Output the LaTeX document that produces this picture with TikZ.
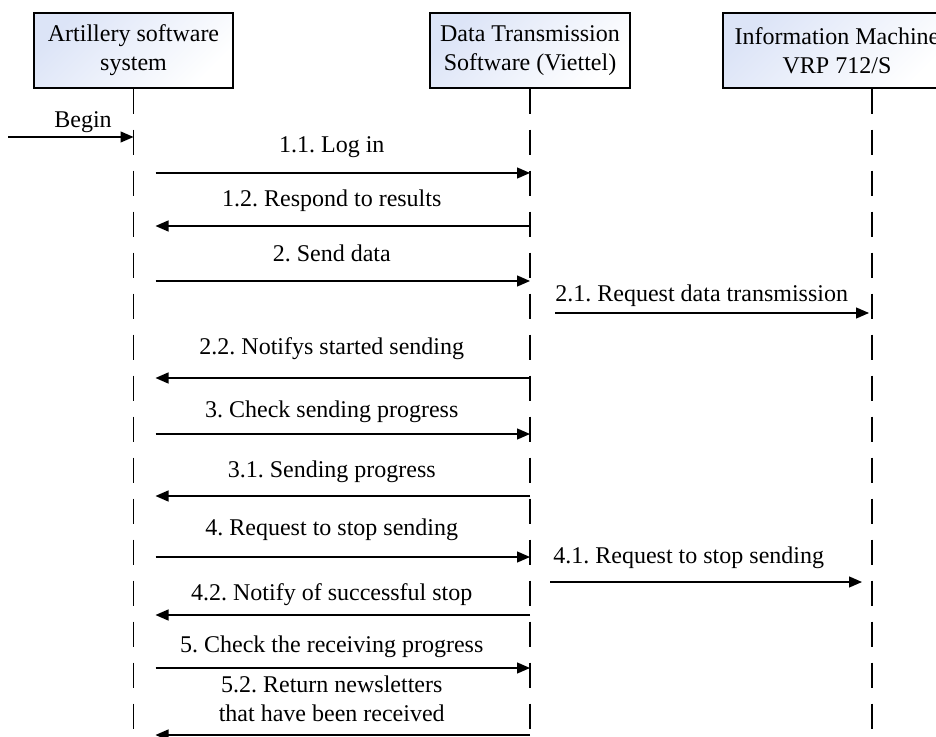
\documentclass[tikz,border=0pt]{standalone}
\usepackage{fontspec}
\setmainfont{Liberation Serif}
\usetikzlibrary{arrows.meta,calc,positioning}
\definecolor{boxblue}{RGB}{220,228,247}
\frenchspacing

\begin{document}
\begin{tikzpicture}[x=0.5pt,y=-0.5pt,
		font=\fontsize{12pt}{14.5pt}\selectfont,
		actor/.style={draw, line width=0.6pt, minimum height=37.5pt, align=center, inner sep=0pt, left color=boxblue, right color=white, shading angle=45},
		lifeline/.style={line width=0.65pt, dash pattern=on 12.5pt off 8pt},
		msg/.style={line width=0.65pt, -{Triangle[length=6.5pt,width=5.5pt]}},
		lbl/.style={anchor=base, inner sep=0pt}]
		\useasboundingbox (0,0) rectangle (936,737);
		\coordinate (bot) at (0,737);

		% actors
		\node[actor, minimum width=99.5pt] (sys) at (133.5,50.5) {Artillery software\\system};
		\node[actor, minimum width=100pt] (dts) at (530,50.5) {Data Transmission\\Software (Viettel)};
		\node[actor, minimum width=114pt] (vrp) at (837,50.5) {Information Machine\\VRP 712/S};
		\coordinate (vrpline) at ([xshift=17.5pt]vrp.south);

		% lifelines
		\draw[lifeline] (sys.south) -- (sys.south |- bot);
		\draw[lifeline] (dts.south) -- (dts.south |- bot);
		\draw[lifeline] (vrpline) -- (vrpline |- bot);

		\coordinate (sysout) at ([xshift=11pt]sys.south);
		\coordinate (mid) at ($(sys.south)!.5!(dts.south)$);

		% begin
		\coordinate (start) at (8,137);
		\draw[msg] (start) -- (sys.south |- start);
		\node[lbl] (begin) at (83,128) {Begin};

		% system -> transmission software
		\foreach \y/\b/\txt in {173/153/{1.1. Log in}, 281/262/{2. Send data}, 434/417/{3. Check sending progress}, 557/535/{4. Request to stop sending}, 668/652/{5. Check the receiving progress}}{
			\draw[msg] (sysout |- 0,\y) -- (dts.south |- 0,\y);
			\node[lbl] at (mid |- 0,\b) {\txt};
		}

		% transmission software -> system
		\foreach \y/\b/\txt in {226/207/{1.2. Respond to results}, 378/355/{2.2. Notifys started sending}, 496/477/{3.1. Sending progress}, 615/600/{4.2. Notify of successful stop}}{
			\draw[msg] (dts.south |- 0,\y) -- (sysout |- 0,\y);
			\node[lbl] at (mid |- 0,\b) {\txt};
		}
		\draw[msg] (dts.south |- 0,735) -- (sysout |- 0,735);
		\node[anchor=south, inner sep=0pt, align=center] (ret) at (mid |- 0,722) {5.2. Return newsletters\\that have been received};

		% transmission software -> information machine
		\coordinate (r21) at ([xshift=12.5pt]dts.south |- 0,313);
		\coordinate (r41) at ([xshift=10pt]dts.south |- 0,582);
		\draw[msg] (r21) -- ([xshift=-1.5pt]vrpline |- r21);
		\node[lbl, anchor=base west] at ([yshift=5.5pt]r21) {2.1. Request data transmission};
		\draw[msg] (r41) -- ([xshift=-5pt]vrpline |- r41);
		\node[lbl, anchor=base west] at ([xshift=1.5pt,yshift=9.5pt]r41) {4.1. Request to stop sending};
	\end{tikzpicture}
\end{document}
